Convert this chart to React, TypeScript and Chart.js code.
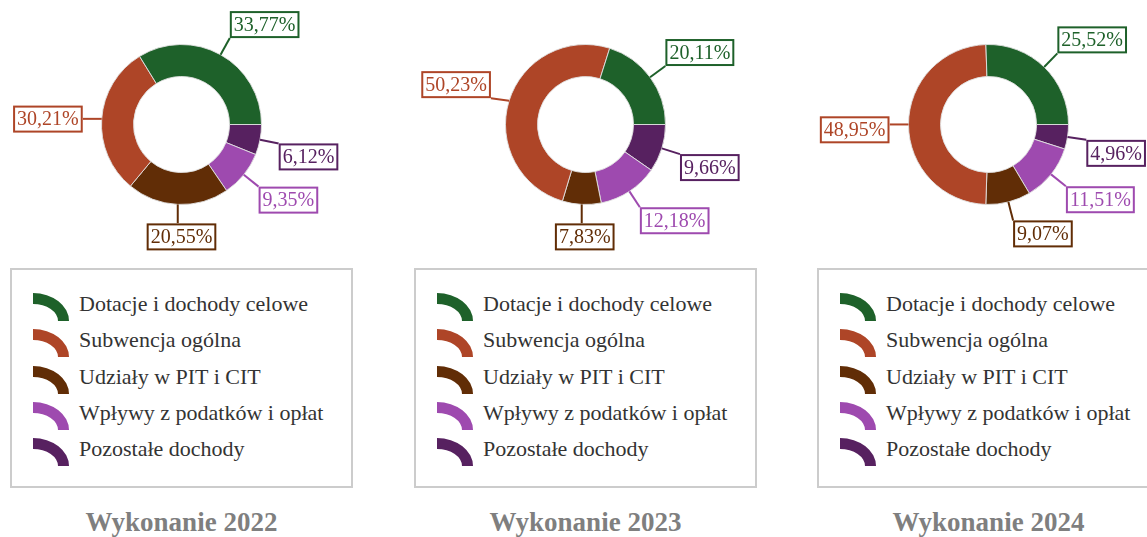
import React, { useEffect, useRef } from 'react';
import { Chart, registerables } from 'chart.js';

Chart.register(...registerables);

const categories = [
  'Dotacje i dochody celowe',
  'Subwencja ogólna',
  'Udziały w PIT i CIT',
  'Wpływy z podatków i opłat',
  'Pozostałe dochody',
];
const colors = ['#1e612a', '#ae4527', '#612d06', '#9e4aaf', '#572160'];
const years = ['2022', '2023', '2024'];
const values2022 = [33.77, 30.21, 20.55, 9.35, 6.12];
const values2023 = [20.11, 50.23, 7.83, 12.18, 9.66];
const values2024 = [25.52, 48.95, 9.07, 11.51, 4.96];
const seriesValues = [values2022, values2023, values2024];
const titlePrefix = 'Wykonanie ';

const columnLeft = [10, 414, 817];

const fmt = (v: number) => v.toFixed(2).replace('.', ',') + '%';

function Donut({ values }: { values: number[] }) {
  const ref = useRef<HTMLCanvasElement>(null);
  useEffect(() => {
    const order = [4, 3, 2, 1, 0];
    const labels = order.map((i) => categories[i]);
    const data = order.map((i) => values[i]);
    const bg = order.map((i) => colors[i]);
    const calloutPlugin = {
      id: 'callouts',
      afterDatasetsDraw(chart: any) {
        const ctx = chart.ctx as CanvasRenderingContext2D;
        const meta = chart.getDatasetMeta(0);
        ctx.save();
        ctx.font = '20px "Liberation Serif"';
        const cl = (v: number) => Math.max(-1, Math.min(1, v));
        meta.data.forEach((arc: any, k: number) => {
          const { x, y, startAngle, endAngle, outerRadius } = arc;
          const mid = (startAngle + endAngle) / 2;
          const ux = Math.cos(mid);
          const uy = Math.sin(mid);
          const col = bg[k];
          const text = fmt(data[k]);
          const tw = ctx.measureText(text).width;
          const W = tw + 8;
          const H = 27;
          const ex = x + (outerRadius + 19) * ux;
          const ey = y + (outerRadius + 19) * uy;
          const cx = ex + (W / 2) * cl(4 * (ux + 0.08));
          const cy = ey + (H / 2) * cl(4 * (uy + 0.1));
          const left = cx - W / 2;
          const top = cy - H / 2;
          const px = x + outerRadius * ux;
          const py = y + outerRadius * uy;
          const qx = Math.max(left, Math.min(left + W, px));
          const qy = Math.max(top, Math.min(top + H, py));
          ctx.strokeStyle = col;
          ctx.lineWidth = 2;
          ctx.beginPath();
          ctx.moveTo(px, py);
          ctx.lineTo(qx, qy);
          ctx.stroke();
          ctx.fillStyle = '#ffffff';
          ctx.fillRect(left, top, W, H);
          ctx.strokeRect(left + 1, top + 1, W - 2, H - 2);
          ctx.fillStyle = col;
          ctx.textAlign = 'center';
          ctx.textBaseline = 'middle';
          ctx.fillText(text, cx, cy + 1);
        });
        ctx.restore();
      },
    };
    const chart = new Chart(ref.current as HTMLCanvasElement, {
      type: 'doughnut',
      data: {
        labels,
        datasets: [
          {
            data,
            backgroundColor: bg,
            borderColor: 'rgba(225,225,225,0.9)',
            borderWidth: 1,
            radius: 80,
            cutout: '60%',
            rotation: 90,
          } as any,
        ],
      },
      options: {
        responsive: false,
        animation: false,
        rotation: 90,
        layout: { padding: { top: 0, bottom: 16, left: 0, right: 0 } },
        plugins: { legend: { display: false }, tooltip: { enabled: false } },
      } as any,
      plugins: [calloutPlugin],
    });
    return () => chart.destroy();
  }, [values]);
  return (
    <canvas
      ref={ref}
      width={343}
      height={265}
      style={{ position: 'absolute', left: 0, top: 0, width: 343, height: 265 }}
    />
  );
}

function LegendIcon({ color }: { color: string }) {
  return (
    <svg width={36} height={28} viewBox="0 0 36 28" style={{ display: 'block', flex: '0 0 auto' }}>
      <path d="M0,0 A36,28 0 0 1 36,28 L25,28 A25,17 0 0 0 0,11 Z" fill={color} />
    </svg>
  );
}

function Column({ idx }: { idx: number }) {
  return (
    <div style={{ position: 'absolute', left: columnLeft[idx], top: 0, width: 343, height: 537 }}>
      <Donut values={seriesValues[idx]} />
      <div
        style={{
          position: 'absolute',
          left: 0,
          top: 268,
          width: 343,
          height: 220,
          boxSizing: 'border-box',
          border: '2px solid #cccccc',
          paddingTop: 16,
          paddingLeft: 21,
        }}
      >
        {categories.map((c, i) => (
          <div key={c} style={{ display: 'flex', alignItems: 'center', height: 36.25 }}>
            <div style={{ position: 'relative', top: 3 }}>
              <LegendIcon color={colors[i]} />
            </div>
            <span
              style={{
                marginLeft: 10,
                font: '22px "Liberation Serif"',
                color: '#333333',
                whiteSpace: 'nowrap',
              }}
            >
              {c}
            </span>
          </div>
        ))}
      </div>
      <div
        style={{
          position: 'absolute',
          left: 0,
          top: 509,
          width: 343,
          textAlign: 'center',
          font: 'bold 27px "Liberation Serif"',
          lineHeight: '27px',
          color: '#7f7f7f',
          whiteSpace: 'nowrap',
        }}
      >
        {titlePrefix + years[idx]}
      </div>
    </div>
  );
}

export default function App() {
  return (
    <div
      style={{
        position: 'fixed',
        left: 0,
        top: 0,
        width: 1147,
        height: 537,
        overflow: 'hidden',
        background: '#ffffff',
      }}
    >
      {years.map((y, i) => (
        <Column key={y} idx={i} />
      ))}
    </div>
  );
}
